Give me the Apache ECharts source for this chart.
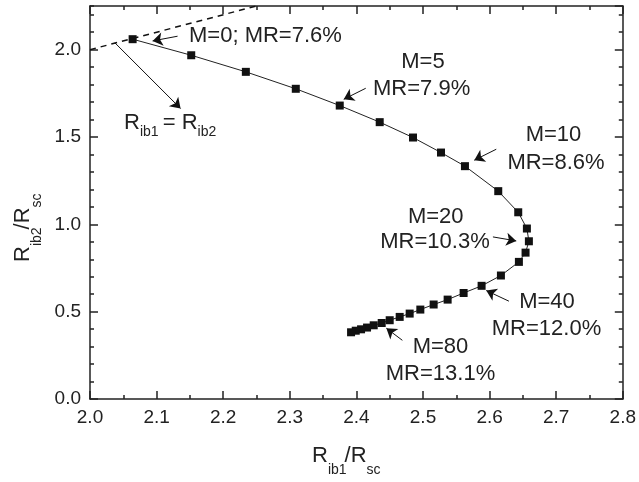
<!DOCTYPE html>
<html>
<head>
<meta charset="utf-8">
<script src="https://cdn.jsdelivr.net/npm/echarts@6/dist/echarts.min.js"></script>
<style>
  html, body { margin: 0; padding: 0; background: #fff; }
  #chart { width: 639px; height: 482px; }
</style>
</head>
<body>
<div id="chart"></div>
<script>
var FONT = '"Liberation Sans", Arial, sans-serif';

// R_ib1/R_sc , R_ib2/R_sc (M = 0 ... 80)
var rib1 = [2.064, 2.152, 2.234, 2.309, 2.375, 2.435, 2.485, 2.527, 2.563, 2.613,
            2.643, 2.656, 2.659, 2.654, 2.644, 2.617, 2.588, 2.561, 2.537, 2.516,
            2.496, 2.480, 2.465, 2.450, 2.438, 2.426, 2.416, 2.407, 2.399, 2.392];
var rib2 = [2.060, 1.968, 1.873, 1.776, 1.680, 1.585, 1.497, 1.411, 1.333, 1.190,
            1.069, 0.976, 0.903, 0.838, 0.785, 0.707, 0.648, 0.607, 0.569, 0.541,
            0.512, 0.489, 0.470, 0.451, 0.435, 0.422, 0.409, 0.399, 0.391, 0.382];

// R_ib1 = R_ib2 reference line
var equalLine = [[2.0, 2.0], [2.25, 2.25]];

// annotation arrows: [from, to] in data units
var arrows = [
  [[2.1315, 2.077], [2.094, 2.050]],
  [[2.0374, 2.039], [2.136, 1.663]],
  [[2.414, 1.779], [2.381, 1.716]],
  [[2.610, 1.430], [2.577, 1.367]],
  [[2.605, 0.928], [2.640, 0.905]],
  [[2.629, 0.560], [2.595, 0.621]],
  [[2.469, 0.336], [2.445, 0.405]]
];

var xTicks = { min: 2.0, max: 2.8, step: 0.1 };
var yTicks = { min: 0, max: 2.25, step: 0.5, minorStep: 0.1 };

var points = rib1.map(function (x, i) { return [x, rib2[i]]; });

var myChart = echarts.init(document.getElementById('chart'));

function xAxisCfg(pos, labels) {
  return {
    type: 'value', position: pos,
    min: xTicks.min, max: xTicks.max, interval: xTicks.step,
    axisLine: { onZero: false, lineStyle: { color: '#222', width: 1.5 } },
    axisTick: { inside: true, length: 8, lineStyle: { color: '#222', width: 1.5 } },
    minorTick: { show: true, splitNumber: 2, length: 4, lineStyle: { color: '#222', width: 1.5 } },
    splitLine: { show: false },
    axisLabel: {
      show: labels, fontSize: 19, color: '#222', fontFamily: FONT, margin: 9,
      formatter: function (v) { return v.toFixed(1); }
    }
  };
}

function yAxisCfg(pos, step, len, line, labels) {
  return {
    type: 'value', position: pos,
    min: yTicks.min, max: yTicks.max, interval: step,
    axisLine: { show: line, onZero: false, lineStyle: { color: '#222', width: 1.5 } },
    axisTick: { inside: true, length: len, lineStyle: { color: '#222', width: 1.5 } },
    splitLine: { show: false },
    axisLabel: {
      show: labels, showMaxLabel: false, fontSize: 19, color: '#222', fontFamily: FONT, margin: 9,
      formatter: function (v) { return v.toFixed(1); }
    }
  };
}

// text with subscripts, built from pieces: [text, isSub]
// advance widths of Liberation Sans (em units)
var GLYPH_W = { 'R': 0.722, 'i': 0.222, 'b': 0.556, '1': 0.556, '2': 0.556,
                '/': 0.278, 's': 0.5, 'c': 0.5, ' ': 0.278, '=': 0.584 };
function textWidth(t, size) {
  var w = 0;
  for (var i = 0; i < t.length; i++) w += (GLYPH_W[t[i]] || 0.556) * size;
  return w;
}
function subText(parts, x, y, rotation, subDrop) {
  var cx = 0;
  var children = parts.map(function (p) {
    var size = p[1] ? 14 : 22;
    var el = {
      type: 'text', x: cx, y: p[1] ? subDrop : 0, silent: true,
      style: { text: p[0], fontSize: size, fontFamily: FONT, fill: '#222',
               align: 'left', verticalAlign: 'middle' }
    };
    cx += textWidth(p[0], size) - (p[1] ? 2 : 0);
    return el;
  });
  return { type: 'group', x: x, y: y, rotation: rotation || 0, children: children };
}

function note(text, x, y, align) {
  return {
    type: 'text', x: x, y: y, silent: true,
    style: { text: text, fontSize: 22, fontFamily: FONT, fill: '#222',
             align: align || 'center', verticalAlign: 'middle' }
  };
}

var option = {
  animation: false,
  backgroundColor: '#fff',
  grid: { left: 90, right: 14, top: 6, bottom: 83 },
  xAxis: [xAxisCfg('bottom', true), xAxisCfg('top', false)],
  yAxis: [
    yAxisCfg('left', yTicks.step, 8, true, true),
    yAxisCfg('left', yTicks.minorStep, 4, false, false),
    yAxisCfg('right', yTicks.step, 8, true, false),
    yAxisCfg('right', yTicks.minorStep, 4, false, false)
  ],
  series: [
    {
      type: 'line',
      data: equalLine,
      symbol: 'none',
      lineStyle: { color: '#111', width: 1.5, type: [6, 5] },
      silent: true
    },
    {
      type: 'line',
      data: points,
      symbol: 'rect',
      symbolSize: 8,
      itemStyle: { color: '#111' },
      lineStyle: { color: '#222', width: 1 },
      silent: true,
      markLine: {
        silent: true,
        symbol: ['none', 'arrow'],
        symbolSize: 10,
        label: { show: false },
        lineStyle: { color: '#111', width: 1, type: 'solid' },
        emphasis: { disabled: true },
        data: arrows.map(function (a) {
          return [{ coord: a[0] }, { coord: a[1] }];
        })
      }
    }
  ],
  graphic: [
    note('M=0; MR=7.6%', 189, 36, 'left'),
    note('M=5', 423, 62),
    note('MR=7.9%', 373, 88.5, 'left'),
    note('M=10', 553.5, 135),
    note('MR=8.6%', 556, 163.3),
    note('M=20', 435.7, 216.7),
    note('MR=10.3%', 435, 242),
    note('M=40', 547, 301.7),
    note('MR=12.0%', 546.5, 329),
    note('M=80', 440.5, 346.7),
    note('MR=13.1%', 440.5, 374),
    subText([['R', 0], ['ib1', 1], [' = R', 0], ['ib2', 1]], 124, 122.5, 0, 10),
    subText([['R', 0], ['ib1', 1], ['/R', 0], ['sc', 1]], 312, 455.5, 0, 15),
    subText([['R', 0], ['ib2', 1], ['/R', 0], ['sc', 1]], 22.5, 262, Math.PI / 2, 15)
  ]
};

myChart.setOption(option);
</script>
</body>
</html>
